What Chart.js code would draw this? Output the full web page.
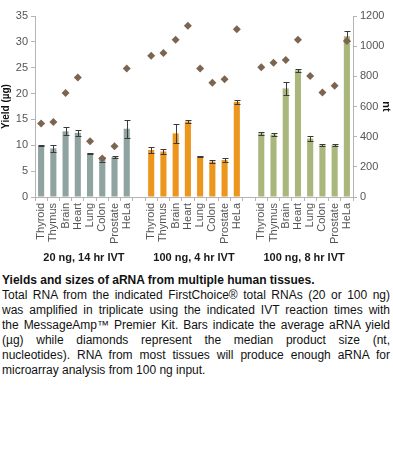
<!DOCTYPE html>
<html>
<head>
<meta charset="utf-8">
<script src="https://cdn.jsdelivr.net/npm/chart.js@4/dist/chart.umd.min.js"></script>
<style>
  body { margin: 0; background: #fff; }
  #wrap { position: relative; width: 393px; height: 270px; }
  #caption {
    width: 388px;
    margin-top: 3px;
    padding-left: 2px;
    font-family: "Liberation Sans", Arial, sans-serif;
    font-size: 12px;
    line-height: 15px;
    color: #111;
  }
  #caption div { text-align: justify; text-align-last: justify; white-space: nowrap; }
  #caption div.last, #caption div.title { text-align-last: left; }
  #caption div.title { font-weight: bold; }
</style>
</head>
<body>
<div id="wrap"><canvas id="chart"></canvas></div>
<div id="caption">
  <div class="title">Yields and sizes of aRNA from multiple human tissues.</div>
  <div>Total RNA from the indicated FirstChoice® total RNAs (20 or 100 ng)</div>
  <div>was amplified in triplicate using the indicated IVT reaction times with</div>
  <div>the MessageAmp™ Premier Kit. Bars indicate the average aRNA yield</div>
  <div>(µg) while diamonds represent the median product size (nt,</div>
  <div>nucleotides). RNA from most tissues will produce enough aRNA for</div>
  <div class="last">microarray analysis from 100 ng input.</div>
</div>
<script>
const tissues = ['Thyroid', 'Thymus', 'Brain', 'Heart', 'Lung', 'Colon', 'Prostate', 'HeLa'];
const groupNames = ['20 ng, 14 hr IVT', '100 ng, 4 hr IVT', '100 ng, 8 hr IVT'];

// yield in µg (bars), spread (error bars), median size in nt (diamonds)
const yield20 = [9.9, 9.4, 12.7, 12.4, 8.5, 7.3, 7.7, 13.2];
const err20 = [0.1, 0.7, 0.8, 0.6, 0.1, 0.5, 0.2, 1.7];
const nt20 = [487, 498, 690, 793, 370, 256, 337, 852];

const yield100x4 = [9.1, 8.8, 12.3, 14.6, 7.9, 6.85, 7.15, 18.4];
const err100x4 = [0.5, 0.5, 1.8, 0.3, 0.1, 0.3, 0.3, 0.4];
const nt100x4 = [936, 954, 1042, 1136, 852, 758, 780, 1112];

const yield100x8 = [12.3, 12.1, 21.0, 24.5, 11.3, 10.0, 10.0, 31.1];
const err100x8 = [0.3, 0.3, 1.2, 0.3, 0.4, 0.2, 0.2, 1.0];
const nt100x8 = [861, 890, 909, 1042, 802, 692, 738, 1035];

const groupColors = ['#8fa3a1', '#ec961e', '#a9b77c'];
const diamondColor = '#7b6550';

// one empty slot between groups
const labels = [...tissues, '', ...tissues, '', ...tissues];
const yields = [...yield20, null, ...yield100x4, null, ...yield100x8];
const errs = [...err20, null, ...err100x4, null, ...err100x8];
const sizes = [...nt20, null, ...nt100x4, null, ...nt100x8];
const barColors = [
  ...tissues.map(() => groupColors[0]), null,
  ...tissues.map(() => groupColors[1]), null,
  ...tissues.map(() => groupColors[2])
];
const groupCenters = [3.5, 12.5, 21.5];

const errorBars = {
  id: 'errorBars',
  afterDatasetDraw(chart, args) {
    if (args.index !== 1) return;
    const y = chart.scales.y;
    const ctx = chart.ctx;
    ctx.save();
    ctx.strokeStyle = '#3a3a3a';
    ctx.lineWidth = 1;
    args.meta.data.forEach((bar, i) => {
      if (yields[i] == null) return;
      const x = Math.round(bar.x) + 0.5;
      const top = Math.round(y.getPixelForValue(yields[i] + errs[i])) + 0.5;
      const bot = Math.round(y.getPixelForValue(yields[i] - errs[i])) + 0.5;
      ctx.beginPath();
      ctx.moveTo(x, top); ctx.lineTo(x, bot);
      ctx.moveTo(x - 3, top); ctx.lineTo(x + 3, top);
      ctx.moveTo(x - 3, bot); ctx.lineTo(x + 3, bot);
      ctx.stroke();
    });
    ctx.restore();
  }
};

const tickFont = { family: '"Liberation Sans", Arial, sans-serif', size: 11 };

new Chart(document.getElementById('chart'), {
  type: 'bar',
  data: {
    labels: labels,
    datasets: [
      {
        type: 'line',
        label: 'nt',
        data: sizes,
        yAxisID: 'y2',
        showLine: false,
        pointStyle: 'rectRot',
        pointRadius: 4,
        pointBackgroundColor: diamondColor,
        pointBorderColor: diamondColor,
        pointBorderWidth: 0,
        order: 0
      },
      {
        label: 'Yield',
        data: yields,
        yAxisID: 'y',
        backgroundColor: barColors,
        barPercentage: 0.5,
        categoryPercentage: 1,
        order: 1
      }
    ]
  },
  options: {
    responsive: true,
    maintainAspectRatio: false,
    animation: false,
    layout: { padding: { top: 16, left: 0, right: 0, bottom: 0 } },
    plugins: { legend: { display: false }, tooltip: { enabled: false } },
    scales: {
      x: {
        offset: true,
        grid: { display: true, drawOnChartArea: false, offset: true, tickLength: 4, color: '#b5b5b5' },
        border: { color: '#b5b5b5' },
        ticks: { minRotation: 90, maxRotation: 90, autoSkip: false, color: '#555', font: tickFont, padding: 2 },
        afterFit(s) { s.height = 48; }
      },
      x2: {
        type: 'linear',
        position: 'bottom',
        offset: false,
        min: -0.5,
        max: 25.5,
        grid: { display: false, drawTicks: false, offset: false },
        border: { display: false },
        afterBuildTicks(s) { s.ticks = groupCenters.map(v => ({ value: v })); },
        ticks: {
          color: '#1a1a1a',
          font: { family: '"Liberation Sans", Arial, sans-serif', size: 11, weight: 'bold' },
          padding: 6,
          maxRotation: 0,
          autoSkip: false,
          callback(v) { return groupNames[groupCenters.indexOf(v)]; }
        },
        afterFit(s) { s.height = 25; }
      },
      y: {
        position: 'left',
        min: 0,
        max: 35,
        ticks: { stepSize: 5, color: '#555', font: tickFont, padding: 3 },
        grid: { display: true, drawOnChartArea: false, tickLength: 4, color: '#b5b5b5' },
        border: { color: '#b5b5b5' },
        title: {
          display: true,
          text: 'Yield (µg)',
          color: '#111',
          font: { family: '"Liberation Sans", Arial, sans-serif', size: 10, weight: 'bold' },
          padding: { top: 0, bottom: 0 }
        },
        afterFit(s) { s.width = 35; }
      },
      y2: {
        position: 'right',
        min: 0,
        max: 1200,
        ticks: {
          stepSize: 200,
          color: '#555',
          font: tickFont,
          padding: 3,
          callback(v) { return String(v); }
        },
        grid: { display: true, drawOnChartArea: false, tickLength: 4, color: '#b5b5b5' },
        border: { color: '#b5b5b5' },
        title: {
          display: true,
          text: 'nt',
          color: '#111',
          font: { family: '"Liberation Sans", Arial, sans-serif', size: 11, weight: 'bold' },
          padding: { top: 0, bottom: 2 }
        },
        afterFit(s) { s.width = 40; }
      }
    }
  },
  plugins: [errorBars]
});
</script>
</body>
</html>
